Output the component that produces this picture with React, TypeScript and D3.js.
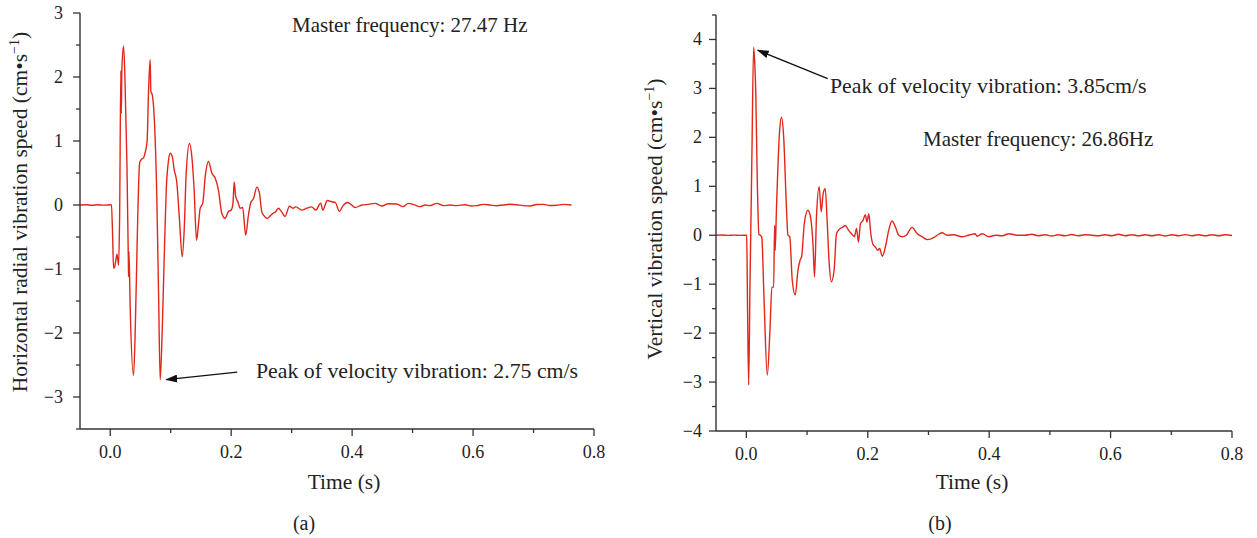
import React from 'react';
import * as d3 from 'd3';

// ---- panel (a): horizontal radial ----
const timeA = [
  -0.05, -0.04, -0.03, -0.02, -0.01, 0.0, 0.002, 0.004, 0.0055, 0.0072, 0.0095, 0.011, 0.0125, 0.0138, 0.0155,
  0.0176, 0.0183, 0.0192, 0.022, 0.024, 0.0276, 0.03, 0.0303, 0.031, 0.033, 0.0386, 0.0415, 0.0452, 0.0485,
  0.0505, 0.052, 0.0545, 0.058, 0.061, 0.0634, 0.066, 0.0672, 0.0695, 0.0727, 0.077, 0.08, 0.0826, 0.086,
  0.089, 0.0926, 0.0964, 0.0992, 0.1025, 0.1058, 0.11, 0.1145, 0.119, 0.1223, 0.1256, 0.131, 0.1355, 0.1388,
  0.1427, 0.146, 0.1488, 0.153, 0.157, 0.1625, 0.168, 0.1735, 0.179, 0.1845, 0.19, 0.1955, 0.2, 0.203, 0.205,
  0.2075, 0.211, 0.215, 0.219, 0.224, 0.2285, 0.2325, 0.237, 0.2424, 0.2465, 0.2505, 0.2535, 0.26, 0.2645,
  0.269, 0.274, 0.278, 0.283, 0.289, 0.2964, 0.302, 0.307, 0.3168, 0.325, 0.333, 0.34, 0.348, 0.3515, 0.359,
  0.366, 0.372, 0.379, 0.385, 0.392, 0.398, 0.405, 0.416, 0.427, 0.438, 0.449, 0.46, 0.474, 0.484, 0.493,
  0.501, 0.512, 0.521, 0.529, 0.54, 0.551, 0.562, 0.573, 0.587, 0.597, 0.606, 0.617, 0.628, 0.639, 0.65,
  0.661, 0.672, 0.683, 0.694, 0.705, 0.716, 0.727, 0.738, 0.75, 0.763,
];
const speedA = [
  0, 0.005, -0.003, 0.004, -0.002, 0.003, 0, -0.5, -0.99, -0.97, -0.85, -0.77, -0.85, -0.94, -0.2,
  2.1, 1.43, 2.1, 2.48, 2.1, 0.65, -0.9, -1.12, -0.73, -1.6, -2.66, -1.9, -0.3, 0.65,
  0.7, 0.72, 0.73, 0.83, 1.0, 1.8, 2.27, 1.77, 1.72, 1.38, 0.13, -1.43, -2.73, -1.95,
  -0.91, 0.23, 0.7, 0.81, 0.76, 0.55, 0.36, -0.23, -0.81, -0.39, 0.49, 0.96, 0.7, 0.23,
  -0.55, -0.29, -0.05, 0.03, 0.44, 0.68, 0.5, 0.42, 0.23, -0.13, -0.21, -0.1, -0.08, 0.03, 0.36,
  0.13, 0.05, -0.05, -0.04, -0.47, -0.16, 0.04, 0.1, 0.28, 0.2, -0.1, -0.16, -0.21, -0.17,
  -0.13, -0.1, -0.05, -0.1, -0.18, -0.02, -0.05, -0.03, -0.08, -0.05, -0.03, -0.08, 0.03, -0.08, 0.07,
  0.05, 0.04, -0.1, -0.01, 0.04, 0.01, -0.04, 0, 0.01, 0.026, -0.016, 0.02, 0.016, -0.026, 0.026,
  0.01, -0.026, 0, -0.01, 0.026, -0.01, 0, -0.01, 0.005, -0.015, -0.01, 0.01, 0, -0.012, 0,
  0.012, 0.005, -0.01, -0.016, 0.008, 0.01, -0.008, -0.005, 0.01, 0,
];

// ---- panel (b): vertical ----
const timeB = [
  -0.05, -0.04, -0.03, -0.02, -0.01, 0.0, 0.0005, 0.002, 0.0038, 0.006, 0.009, 0.012, 0.0135, 0.0155, 0.018,
  0.0207, 0.023, 0.0255, 0.029, 0.0345, 0.039, 0.042, 0.045, 0.0465, 0.0475, 0.0495, 0.0548, 0.058, 0.0615,
  0.066, 0.0685, 0.0715, 0.0756, 0.0806, 0.085, 0.0885, 0.091, 0.0955, 0.1013, 0.1057, 0.11, 0.1123, 0.1155,
  0.12, 0.1233, 0.1265, 0.13, 0.1333, 0.1365, 0.14, 0.1445, 0.1485, 0.153, 0.158, 0.163, 0.1685, 0.174,
  0.178, 0.1815, 0.1847, 0.188, 0.192, 0.196, 0.1987, 0.2017, 0.205, 0.209, 0.2125, 0.2165, 0.2195, 0.224,
  0.229, 0.2345, 0.24, 0.2455, 0.251, 0.2565, 0.2635, 0.273, 0.2815, 0.2895, 0.2987, 0.3085, 0.3168, 0.3224,
  0.3305, 0.3415, 0.355, 0.366, 0.377, 0.38, 0.3885, 0.3995, 0.4105, 0.4215, 0.4325, 0.446, 0.459, 0.47,
  0.481, 0.492, 0.503, 0.514, 0.525, 0.536, 0.547, 0.558, 0.569, 0.58, 0.591, 0.602, 0.613, 0.624, 0.635,
  0.646, 0.657, 0.668, 0.679, 0.69, 0.701, 0.712, 0.723, 0.734, 0.745, 0.756, 0.767, 0.778, 0.789, 0.8,
];
const speedB = [
  0, 0.004, -0.003, 0.003, -0.002, 0.002, 0, -1.5, -3.06, -1.0, 1.5, 3.84, 3.6, 2.93, 1.12,
  0.02, 0, -0.05, -1.26, -2.86, -1.9, -1.06, -1.06, 0.2, -0.31, 0.5, 2.14, 2.41, 2.0,
  0.58, 0, -0.03, -0.92, -1.22, -0.72, -0.51, -0.44, 0.24, 0.51, 0.37, -0.24, -0.85, 0.37,
  0.99, 0.48, 0.85, 0.95, 0.24, -0.58, -0.95, -0.72, 0.03, 0.12, 0.16, 0.2, 0.1, 0.02,
  -0.03, 0.14, -0.14, 0.24, 0.3, 0.42, 0.27, 0.44, 0.03, -0.2, -0.24, -0.31, -0.27, -0.43,
  -0.24, 0.1, 0.29, 0.17, 0, -0.03, 0, 0.16, 0.03, -0.03, -0.09, -0.05, 0.02, 0.05,
  0, 0.01, -0.03, 0, 0.03, -0.02, 0.03, -0.03, 0, -0.01, 0.03, 0, 0, 0.02,
  -0.01, 0.01, -0.015, 0.01, -0.01, 0.015, -0.01, 0.01, 0, -0.012, 0.01, -0.01, 0.02, -0.01, 0.01,
  -0.012, 0.01, -0.01, 0.01, -0.015, 0.01, -0.01, 0.012, -0.01, 0.01, -0.012, 0.01, -0.01, 0.01, -0.005,
];

const xTicks = [0.0, 0.2, 0.4, 0.6, 0.8];
const xMinor = [0.1, 0.3, 0.5, 0.7];
const yTicksA = [-3, -2, -1, 0, 1, 2, 3];
const yMinorA = [-3.5, -2.5, -1.5, -0.5, 0.5, 1.5, 2.5];
const yTicksB = [-4, -3, -2, -1, 0, 1, 2, 3, 4];
const yMinorB = [-3.5, -2.5, -1.5, -0.5, 0.5, 1.5, 2.5, 3.5, 4.5];

const FONT = '"Liberation Serif", "Times New Roman", serif';
const RED = '#e3261b';
const AXIS = '#333';

const fmt = (v: number) => (v < 0 ? '\u2212' + Math.abs(v) : String(v));

type Note = { text: string; x: number; y: number; size: number };

function Panel(props: {
  left: number; right: number; top: number; bottom: number;
  yDomain: [number, number]; yTicks: number[]; yMinor: number[];
  times: number[]; speeds: number[]; yLabel: string; yLabelX: number; yLabelY: number;
  tag: string; tagX: number; timeX: number; labelGap: number;
  notes: Note[]; arrow: { from: [number, number]; to: [number, number] };
}) {
  const { left, right, top, bottom } = props;
  const x = d3.scaleLinear().domain([-0.05, 0.8]).range([left, right]);
  const y = d3.scaleLinear().domain(props.yDomain).range([bottom, top]);
  const pts = props.times.map((t, i) => [t, props.speeds[i]] as [number, number]);
  const line = d3.line<[number, number]>().x(d => x(d[0])).y(d => y(d[1])).curve(d3.curveMonotoneX);
  const a = props.arrow;
  return (
    <g fontFamily={FONT} fill="#222">
      <path d={line(pts) || ''} fill="none" stroke={RED} strokeWidth={1.4} strokeLinejoin="round" />
      <line x1={left} x2={left} y1={top} y2={bottom} stroke={AXIS} strokeWidth={1.4} />
      <line x1={left} x2={right} y1={bottom} y2={bottom} stroke={AXIS} strokeWidth={1.4} />
      {props.yTicks.map(v => (
        <g key={'y' + v}>
          <line x1={left - 7} x2={left} y1={y(v)} y2={y(v)} stroke={AXIS} strokeWidth={1.3} />
          <text x={left - props.labelGap} y={y(v) + 6} textAnchor="end" fontSize={18}>{fmt(v)}</text>
        </g>
      ))}
      {props.yMinor.map(v => (
        <line key={'ym' + v} x1={left - 4} x2={left} y1={y(v)} y2={y(v)} stroke={AXIS} strokeWidth={1.3} />
      ))}
      {xTicks.map(v => (
        <g key={'x' + v}>
          <line x1={x(v)} x2={x(v)} y1={bottom} y2={bottom + 7} stroke={AXIS} strokeWidth={1.3} />
          <text x={x(v)} y={bottom + 29} textAnchor="middle" fontSize={18}>{v.toFixed(1)}</text>
        </g>
      ))}
      {xMinor.map(v => (
        <line key={'xm' + v} x1={x(v)} x2={x(v)} y1={bottom} y2={bottom + 4} stroke={AXIS} strokeWidth={1.3} />
      ))}
      <text x={props.timeX} y={489} textAnchor="middle" fontSize={21.5}>Time (s)</text>
      <text x={props.tagX} y={530} textAnchor="middle" fontSize={20}>{props.tag}</text>
      <text transform={`translate(${props.yLabelX},${props.yLabelY}) rotate(-90)`} textAnchor="middle" fontSize={21.5}>
        {props.yLabel} (cm•s<tspan dy={-8} fontSize={14}>{'\u22121'}</tspan><tspan dy={8}>)</tspan>
      </text>
      {props.notes.map(n => (
        <text key={n.text} x={n.x} y={n.y} fontSize={n.size}>{n.text}</text>
      ))}
      <line x1={x(a.from[0])} y1={y(a.from[1])} x2={x(a.to[0])} y2={y(a.to[1])}
        stroke="#111" strokeWidth={1.3} markerEnd="url(#arrowHead)" />
    </g>
  );
}

export default function App() {
  return (
    <svg width={1257} height={538} style={{ position: 'absolute', left: 0, top: 0, background: '#fff' }}>
      <defs>
        <marker id="arrowHead" viewBox="0 0 12 8" refX={11} refY={4} markerWidth={12} markerHeight={8}
          markerUnits="userSpaceOnUse" orient="auto">
          <path d="M0,0 L12,4 L0,8 Z" fill="#111" />
        </marker>
      </defs>
      <Panel left={80} right={594} top={13} bottom={429} yDomain={[-3.5, 3]}
        yTicks={yTicksA} yMinor={yMinorA} times={timeA} speeds={speedA}
        yLabel="Horizontal radial vibration speed" yLabelX={27} yLabelY={212}
        tag="(a)" tagX={304} timeX={344} labelGap={17}
        notes={[
          { text: 'Master frequency: 27.47 Hz', x: 292, y: 32, size: 21 },
          { text: 'Peak of velocity vibration: 2.75 cm/s', x: 256, y: 378, size: 21.8 },
        ]}
        arrow={{ from: [0.21, -2.61], to: [0.0926, -2.73] }} />
      <Panel left={716} right={1232} top={15} bottom={431} yDomain={[-4, 4.5]}
        yTicks={yTicksB} yMinor={yMinorB} times={timeB} speeds={speedB}
        yLabel="Vertical vibration speed" yLabelX={662} yLabelY={219}
        tag="(b)" tagX={940} timeX={972} labelGap={14}
        notes={[
          { text: 'Peak of velocity vibration: 3.85cm/s', x: 830, y: 93, size: 21.8 },
          { text: 'Master frequency: 26.86Hz', x: 923, y: 146, size: 21 },
        ]}
        arrow={{ from: [0.134, 3.2], to: [0.0186, 3.78] }} />
    </svg>
  );
}
